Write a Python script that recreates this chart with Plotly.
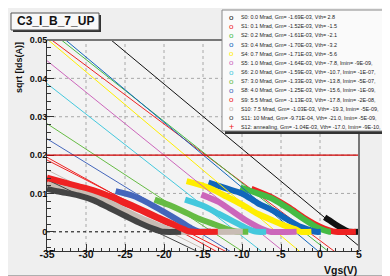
import plotly.graph_objects as go

# ---------------- data ----------------
labels = [
    "S0: 0.0 Mrad, Gm= -1.69E-03, Vth= 2.8",
    "S1: 0.1 Mrad, Gm= -1.52E-03, Vth= -1.5",
    "S2: 0.2 Mrad, Gm= -1.61E-03, Vth= -2.1",
    "S3: 0.4 Mrad, Gm= -1.70E-03, Vth= -3.2",
    "S4: 0.7 Mrad, Gm= -1.71E-03, Vth= -5.6",
    "S5: 1.0 Mrad, Gm= -1.64E-03, Vth= -7.8, Imin= -9E-09,",
    "S6: 2.0 Mrad, Gm= -1.59E-03, Vth= -10.7, Imin= -1E-07,",
    "S7: 3.0 Mrad, Gm= -1.33E-03, Vth= -13.8, Imin= -5E-07,",
    "S8: 4.0 Mrad, Gm= -1.25E-03, Vth= -15.6, Imin= -1E-09,",
    "S9: 5.5 Mrad, Gm= -1.13E-03, Vth= -17.8, Imin= -2E-08,",
    "S10: 7.5 Mrad, Gm= -1.03E-03, Vth= -19.3, Imin= -5E-09,",
    "S11: 10 Mrad, Gm= -9.71E-04, Vth= -21.0, Imin= -5E-09,",
    "S12: annealing, Gm= -1.04E-03, Vth= -17.0, Imin= -9E-10,",
]
gm = [-1.69e-3, -1.52e-3, -1.61e-3, -1.70e-3, -1.71e-3, -1.64e-3, -1.59e-3,
      -1.33e-3, -1.25e-3, -1.13e-3, -1.03e-3, -9.71e-4, -1.04e-3]
vth = [2.8, -1.5, -2.1, -3.2, -5.6, -7.8, -10.7, -13.8, -15.6, -17.8, -19.3, -21.0, -17.0]
colors = ["#111111", "#ee2222", "#44bb44", "#1166bb", "#ffee00", "#cc66bb", "#44c8dd",
          "#66bb44", "#4466bb", "#ee2222", "#c8bcb4", "#444444", "#ee2222"]
symbols = ["o"] * 12 + ["+"]

vgs_s0 = [0.6, 1.2, 2.0, 2.9, 3.5, 3.9, 5.0]
sq_s0 = [0.0038, 0.0030, 0.0019, 0.0008, 0.0002, 0.0, 0.0]
vgs_s1 = [-8.8, -6.0, -4.0, -2.0, 0.0, 1.2, 2.0, 4.6]
sq_s1 = [0.0112, 0.0088, 0.0064, 0.0036, 0.0013, 0.0004, 0.0, 0.0]
vgs_s2 = [-10.2, -8.0, -6.0, -4.0, -2.0, -0.5, 0.5, 1.2, 1.4]
sq_s2 = [0.0115, 0.0100, 0.0085, 0.0060, 0.0032, 0.0013, 0.0004, 0.0, 0.0]
vgs_s3 = [-14.3, -12.0, -10.0, -8.0, -6.0, -4.0, -2.5, -1.2, -0.5, 0.1]
sq_s3 = [0.0128, 0.0113, 0.0100, 0.0075, 0.0055, 0.0030, 0.0013, 0.0004, 0.0, 0.0]
vgs_s4 = [-17.1, -14.4, -12.0, -10.0, -8.0, -6.0, -4.5, -3.2, -2.5, -1.1]
sq_s4 = [0.0132, 0.0116, 0.0092, 0.0071, 0.0047, 0.0029, 0.0016, 0.0007, 0.0, 0.0]
vgs_s5 = [-15.2, -13.0, -11.4, -9.5, -8.0, -7.0, -6.4, -3.0]
sq_s5 = [0.0097, 0.0078, 0.0056, 0.0030, 0.0013, 0.0004, 0.0, 0.0]
vgs_s6 = [-17.3, -15.0, -13.0, -11.0, -9.5, -8.5, -8.0, -6.9]
sq_s6 = [0.0084, 0.0068, 0.0047, 0.0026, 0.0010, 0.0002, 0.0, 0.0]
vgs_s7 = [-21.2, -19.5, -17.5, -15.5, -13.5, -12.0, -10.8, -10.2, -9.2]
sq_s7 = [0.0084, 0.0071, 0.0053, 0.0034, 0.0019, 0.0008, 0.0001, 0.0, 0.0]
vgs_s8 = [-26.2, -24.0, -22.0, -20.0, -18.0, -16.5, -15.6, -15.0, -14.0]
sq_s8 = [0.0106, 0.0094, 0.0075, 0.0052, 0.0028, 0.0009, 0.0001, 0.0, 0.0]
vgs_s9 = [-35.0, -33.5, -31.0, -29.0, -27.0, -25.0, -23.0, -21.0, -19.0, -17.5, -16.8, -16.3, -14.0]
sq_s9 = [0.0137, 0.0129, 0.0115, 0.0106, 0.0090, 0.0074, 0.0056, 0.0037, 0.0019, 0.0007, 0.0001, 0.0, 0.0]
vgs_s10 = [-35.0, -33.5, -31.0, -29.0, -27.0, -25.0, -23.0, -21.0, -19.5, -18.5, -18.0, -9.9]
sq_s10 = [0.0124, 0.0116, 0.0106, 0.0096, 0.0077, 0.0056, 0.0036, 0.0019, 0.0007, 0.0001, 0.0, 0.0]
vgs_s11 = [-35.0, -33.5, -31.0, -29.0, -27.0, -25.0, -23.0, -21.5, -20.5, -20.0, -17.8]
sq_s11 = [0.0112, 0.0105, 0.0095, 0.0082, 0.0062, 0.0042, 0.0022, 0.0009, 0.0002, 0.0, 0.0]
vgs_s12 = [-35.0, -33.0, -31.0, -29.0, -27.0, -25.0, -23.0, -21.0, -19.0, -17.8, -17.0, -16.5, -13.1]
sq_s12 = [0.0141, 0.0130, 0.0119, 0.0108, 0.0093, 0.0077, 0.0059, 0.0040, 0.0022, 0.0009, 0.0002, 0.0, 0.0]

vgs_all = [vgs_s0, vgs_s1, vgs_s2, vgs_s3, vgs_s4, vgs_s5, vgs_s6, vgs_s7,
           vgs_s8, vgs_s9, vgs_s10, vgs_s11, vgs_s12]
sq_all = [sq_s0, sq_s1, sq_s2, sq_s3, sq_s4, sq_s5, sq_s6, sq_s7,
          sq_s8, sq_s9, sq_s10, sq_s11, sq_s12]

x_ticks = [-35, -30, -25, -20, -15, -10, -5, 0, 5]
y_ticks = [0, 0.01, 0.02, 0.03, 0.04, 0.05]
y_ticktext = ["0", "0.01", "0.02", "0.03", "0.04", "0.05"]
x_range = [-35, 5]
y_range = [-0.005, 0.05]
ref_level = 0.02
title_text = "C3_I_B_7_UP"

# ---------------- layout geometry (pixels) ----------------
W, H = 390, 276
L, R, T, B = 39, 351, 32, 243
FONT = "Liberation Sans, Arial, sans-serif"


def pxx(p):
    return (p - L) / (R - L)


def pyy(p):
    return (B - p) / (B - T)


fig = go.Figure()

for i in range(len(labels)):
    fig.add_trace(go.Scatter(x=vgs_all[i], y=sq_all[i], mode="lines",
                             line=dict(color=colors[i], width=6, shape="spline", smoothing=0.7),
                             showlegend=False, hoverinfo="skip"))
    fx = list(x_range)
    fy = [gm[i] * (v - vth[i]) for v in fx]
    fig.add_trace(go.Scatter(x=fx, y=fy, mode="lines",
                             line=dict(color=colors[i], width=1),
                             showlegend=False, hoverinfo="skip"))

shapes = []
# canvas bevel edges
shapes.append(dict(type="line", xref="paper", yref="paper", x0=pxx(0), x1=pxx(389),
                   y0=pyy(268), y1=pyy(268), line=dict(color="#9a9a9a", width=1.5), layer="below"))
shapes.append(dict(type="line", xref="paper", yref="paper", x0=pxx(389), x1=pxx(389),
                   y0=pyy(0), y1=pyy(268), line=dict(color="#9a9a9a", width=1.5), layer="below"))
# grid (dotted) at major ticks
for v in x_ticks[1:-1]:
    shapes.append(dict(type="line", xref="x", yref="paper", x0=v, x1=v, y0=0, y1=1,
                       line=dict(color="#a8a8a8", width=1, dash="dot"), layer="below"))
for v in y_ticks[1:-1]:
    shapes.append(dict(type="line", xref="paper", yref="y", x0=0, x1=1, y0=v, y1=v,
                       line=dict(color="#a8a8a8", width=1, dash="dot"), layer="below"))
shapes.append(dict(type="line", xref="paper", yref="y", x0=0, x1=1, y0=0, y1=0,
                   line=dict(color="#000000", width=1, dash="dot"), layer="below"))
# reference red line
shapes.append(dict(type="line", xref="paper", yref="y", x0=0, x1=1, y0=ref_level, y1=ref_level,
                   line=dict(color="#d00000", width=1.3), layer="above"))
# frame top / right
shapes.append(dict(type="line", xref="paper", yref="paper", x0=0, x1=1, y0=1, y1=1,
                   line=dict(color="#777777", width=2), layer="above"))
shapes.append(dict(type="line", xref="paper", yref="paper", x0=1, x1=1, y0=0, y1=1,
                   line=dict(color="#777777", width=2), layer="above"))
# title box with shadow
shapes.append(dict(type="rect", xref="paper", yref="paper", x0=pxx(5), x1=pxx(93),
                   y0=pyy(24), y1=pyy(7), fillcolor="#333333", line=dict(width=0), layer="above"))
shapes.append(dict(type="rect", xref="paper", yref="paper", x0=pxx(3), x1=pxx(91),
                   y0=pyy(22), y1=pyy(5), fillcolor="#f8f8f8",
                   line=dict(color="#555555", width=1), layer="above"))
# legend box with shadow
shapes.append(dict(type="rect", xref="paper", yref="paper", x0=pxx(217), x1=pxx(392),
                   y0=pyy(126), y1=pyy(5), fillcolor="#333333", line=dict(width=0), layer="above"))
shapes.append(dict(type="rect", xref="paper", yref="paper", x0=pxx(214), x1=pxx(389),
                   y0=pyy(123), y1=pyy(2), fillcolor="#fafafa",
                   line=dict(color="#888888", width=1), layer="above"))

annotations = []
annotations.append(dict(text="<b>%s</b>" % title_text, xref="paper", yref="paper",
                        x=pxx(47), y=pyy(13.5), showarrow=False, xanchor="center", yanchor="middle",
                        font=dict(family=FONT, size=12, color="#111111")))
for i, lab in enumerate(labels):
    yy = pyy(9 + 9.17 * i)
    annotations.append(dict(text=symbols[i], xref="paper", yref="paper", x=pxx(223), y=yy,
                            showarrow=False, xanchor="center", yanchor="middle",
                            font=dict(family=FONT, size=8 if symbols[i] == "o" else 9,
                                      color=colors[i])))
    annotations.append(dict(text=lab, xref="paper", yref="paper", x=pxx(231), y=yy,
                            showarrow=False, xanchor="left", yanchor="middle",
                            font=dict(family=FONT, size=5.4, color="#222222")))
annotations.append(dict(text="<b>Vgs(V)</b>", xref="paper", yref="paper", x=pxx(351), y=pyy(262),
                        showarrow=False, xanchor="right", yanchor="middle",
                        font=dict(family=FONT, size=10.5, color="#111111")))
annotations.append(dict(text="<b>sqrt [Ids(A)]</b>", xref="paper", yref="paper", x=pxx(11), y=pyy(60),
                        showarrow=False, xanchor="center", yanchor="middle", textangle=-90,
                        font=dict(family=FONT, size=9, color="#111111")))

fig.update_layout(
    width=W, height=H,
    margin=dict(l=L, r=W - R, t=T, b=H - B, pad=0),
    paper_bgcolor="#efefef", plot_bgcolor="#f3f3f3",
    showlegend=False,
    shapes=shapes, annotations=annotations,
    xaxis=dict(range=x_range, tickvals=x_ticks, ticktext=[str(v) for v in x_ticks],
               ticks="inside", ticklen=7, tickwidth=1, tickcolor="#333333",
               minor=dict(dtick=1, tick0=0, ticks="inside", ticklen=3.5, tickcolor="#333333",
                          showgrid=False),
               showgrid=False, zeroline=False, showline=True, linecolor="#333333", linewidth=1,
               tickfont=dict(family=FONT, size=10.5, color="#111111", weight="bold"),
               ticklabelstandoff=-7, fixedrange=True),
    yaxis=dict(range=y_range, tickvals=y_ticks, ticktext=y_ticktext,
               ticks="inside", ticklen=7, tickwidth=1, tickcolor="#333333",
               minor=dict(dtick=0.002, tick0=0, ticks="inside", ticklen=3.5, tickcolor="#333333",
                          showgrid=False),
               showgrid=False, zeroline=False, showline=True, linecolor="#333333", linewidth=1,
               tickfont=dict(family=FONT, size=9, color="#111111", weight="bold"),
               ticklabelstandoff=-3, fixedrange=True),
)

fig.write_html("out.html")
